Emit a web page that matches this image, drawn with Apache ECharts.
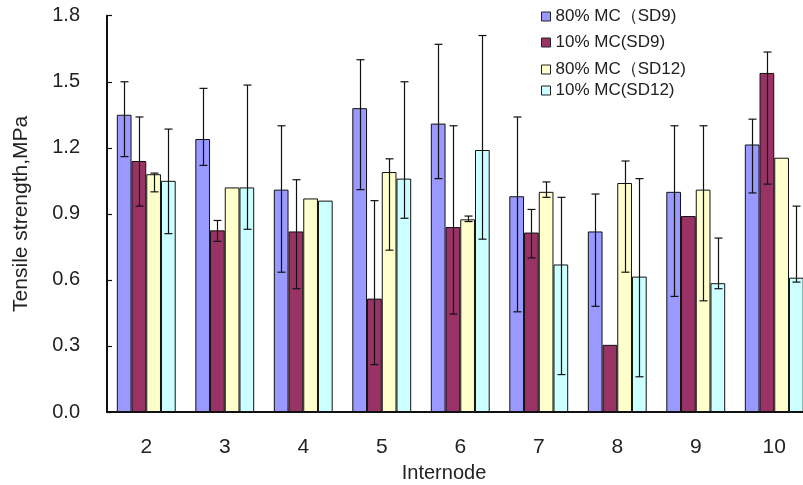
<!DOCTYPE html>
<html>
<head>
<meta charset="utf-8">
<script src="https://cdn.jsdelivr.net/npm/echarts@6/dist/echarts.min.js"></script>
<style>html,body{margin:0;padding:0;background:#fff;}#c{width:803px;height:485px;}</style>
</head>
<body>
<div id="c"></div>
<script>
const categories = ['2','3','4','5','6','7','8','9','10'];
const seriesNames = ['80% MC（SD9)', '10% MC(SD9)', '80% MC（SD12)', '10% MC(SD12)'];
const yTicks = [0, 0.3, 0.6, 0.9, 1.2, 1.5, 1.8];

const sd9_80    = [1.35, 1.24, 1.01, 1.38, 1.31, 0.98, 0.82, 1.00, 1.215];
const sd9_80_hi = [1.50, 1.47, 1.30, 1.60, 1.67, 1.34, 0.99, 1.30, 1.33];
const sd9_80_lo = [1.16, 1.12, 0.635, 1.01, 1.06, 0.455, 0.48, 0.525, 0.995];

const sd9_10    = [1.14, 0.825, 0.82, 0.515, 0.84, 0.815, 0.305, 0.89, 1.54];
const sd9_10_hi = [1.34, 0.87, 1.055, 0.96, 1.30, 0.92, null, null, 1.635];
const sd9_10_lo = [0.935, 0.775, 0.56, 0.215, 0.445, 0.70, null, null, 1.035];

const sd12_80    = [1.08, 1.02, 0.97, 1.09, 0.875, 1.00, 1.04, 1.01, 1.155];
const sd12_80_hi = [1.085, null, null, 1.15, 0.89, 1.045, 1.14, 1.30, null];
const sd12_80_lo = [1.00, null, null, 0.735, 0.865, 0.975, 0.635, 0.505, null];

const sd12_10    = [1.05, 1.02, 0.96, 1.06, 1.19, 0.67, 0.615, 0.585, 0.61];
const sd12_10_hi = [1.285, 1.485, null, 1.50, 1.71, 0.975, 1.06, 0.79, 0.935];
const sd12_10_lo = [0.81, 0.83, null, 0.88, 0.785, 0.17, 0.16, 0.56, 0.59];

const colors = ['#9999FF', '#993366', '#FFFFCC', '#CCFFFF'];
const values = [sd9_80, sd9_10, sd12_80, sd12_10];
const his = [sd9_80_hi, sd9_10_hi, sd12_80_hi, sd12_10_hi];
const los = [sd9_80_lo, sd9_10_lo, sd12_80_lo, sd12_10_lo];

const FONT = '"Liberation Sans", Arial, sans-serif';
const GAP = 0.25;

function errSeries(idx) {
  const data = [];
  categories.forEach((c, i) => {
    if (los[idx][i] != null) data.push([i, los[idx][i], his[idx][i]]);
  });
  return {
    type: 'custom',
    name: 'err' + idx,
    z: 10,
    silent: true,
    clip: false,
    encode: { x: 0, y: [1, 2] },
    data: data,
    renderItem: function (params, api) {
      const xi = api.value(0);
      const lo = api.coord([xi, api.value(1)]);
      const hi = api.coord([xi, api.value(2)]);
      const catW = api.size([1, 0])[0];
      const bw = catW * (1 - GAP) / 4;
      const cx = Math.round(lo[0] + (idx - 1.5) * bw) + 0.5;
      const cap = 4;
      const st = { stroke: '#111', lineWidth: 1.2 };
      return {
        type: 'group',
        children: [
          { type: 'line', shape: { x1: cx, y1: lo[1], x2: cx, y2: hi[1] }, style: st },
          { type: 'line', shape: { x1: cx - cap, y1: hi[1], x2: cx + cap, y2: hi[1] }, style: st },
          { type: 'line', shape: { x1: cx - cap, y1: lo[1], x2: cx + cap, y2: lo[1] }, style: st }
        ]
      };
    }
  };
}

const barSeries = seriesNames.map((n, k) => ({
  type: 'bar',
  name: n,
  data: values[k],
  barGap: '0%',
  barCategoryGap: (GAP * 100) + '%',
  itemStyle: { color: colors[k], borderColor: '#111', borderWidth: 1 }
}));

const legendTops = [8, 34, 61, 82];
const legends = seriesNames.map((n, k) => ({
  data: [n],
  left: 541,
  top: legendTops[k],
  orient: 'vertical',
  icon: 'rect',
  itemWidth: 9,
  itemHeight: 9,
  padding: 0,
  selectedMode: false,
  itemStyle: { borderColor: '#222', borderWidth: 1 },
  textStyle: { fontFamily: FONT, fontSize: 17, color: '#222', lineHeight: 17, padding: [0, 0, 0, 0] }
}));

const chart = echarts.init(document.getElementById('c'), null, { renderer: 'canvas' });
chart.setOption({
  animation: false,
  backgroundColor: '#fff',
  legend: legends,
  grid: { left: 107, top: 15.7, width: 706.5, height: 396.3, containLabel: false, outerBoundsMode: 'none' },
  xAxis: {
    type: 'category',
    data: categories,
    axisLine: { lineStyle: { color: '#111', width: 2 } },
    axisTick: { inside: true, length: 6, lineStyle: { color: '#111', width: 1.5 } },
    axisLabel: { fontFamily: FONT, fontSize: 21, color: '#222', margin: 25 }
  },
  yAxis: {
    type: 'value',
    min: yTicks[0],
    max: yTicks[yTicks.length - 1],
    interval: 0.3,
    name: 'Tensile strength,MPa',
    nameLocation: 'middle',
    nameRotate: 90,
    nameGap: 75,
    nameTextStyle: { fontFamily: FONT, fontSize: 21, color: '#222' },
    splitLine: { show: false },
    axisLine: { show: true, lineStyle: { color: '#111', width: 2 } },
    axisTick: { show: true, inside: true, length: 5, lineStyle: { color: '#111', width: 1.2 } },
    axisLabel: { fontFamily: FONT, fontSize: 20, color: '#222', margin: 27, formatter: v => v.toFixed(1) }
  },
  graphic: [{
    type: 'text',
    x: 444,
    y: 473,
    style: { text: 'Internode', font: '20px ' + FONT, fill: '#222', align: 'center', verticalAlign: 'middle' }
  }],
  series: barSeries.concat([0, 1, 2, 3].map(errSeries))
});
</script>
</body>
</html>
